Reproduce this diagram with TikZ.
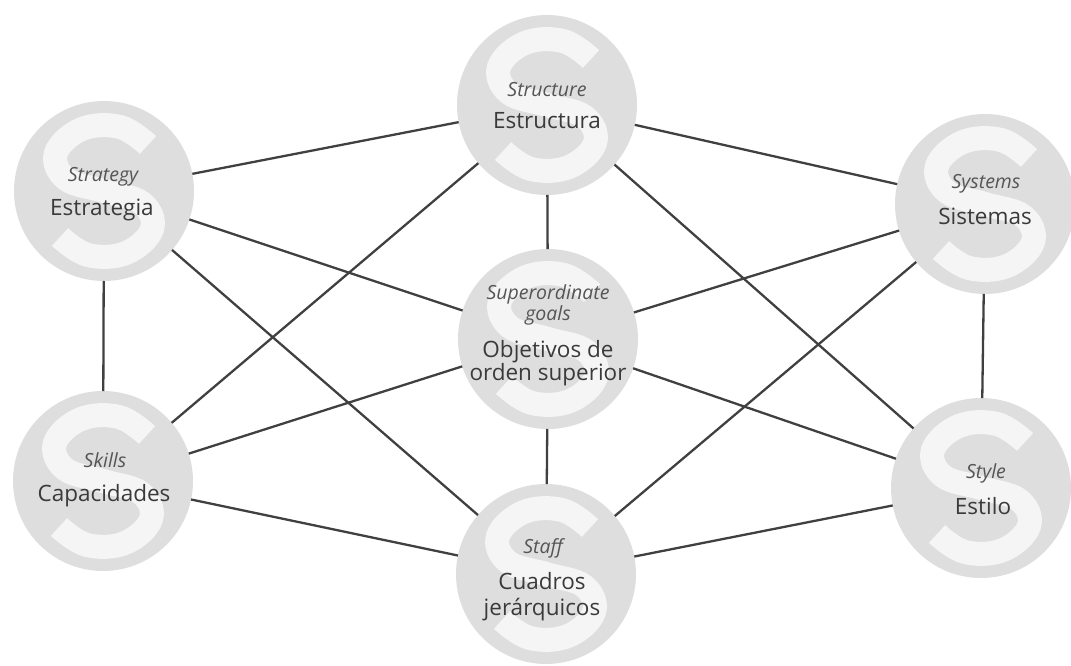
\documentclass[tikz,border=0pt]{standalone}
\usepackage{fontspec}
\setmainfont{Open Sans}
\definecolor{discgray}{HTML}{DEDEDE}
\definecolor{sgray}{HTML}{F5F5F5}
\definecolor{linkgray}{HTML}{404040}
\definecolor{engray}{HTML}{555555}
\definecolor{esgray}{HTML}{3A3A3A}
\begin{document}
\begin{tikzpicture}[x=1pt,y=-1pt,
  disc/.style={circle, minimum size=180pt, inner sep=0pt, outer sep=0pt, fill=discgray,
    path picture={
      \begin{scope}[shift={(path picture bounding box.center)}]
        % the large pale letter S inside each disc
        \draw[sgray, line width=24pt] plot[smooth, tension=0.65] coordinates
          {(44,-46) (16,-64) (-22,-62) (-48,-38) (-38,-12) (0,0) (38,12) (48,38) (22,62) (-16,64) (-44,46)};
      \end{scope}}},
  link/.style={draw=linkgray, line width=2.3pt},
  en/.style={font=\fontsize{19.5}{21}\selectfont\itshape, text=engray, anchor=base, inner sep=0pt},
  es/.style={font=\fontsize{22.5}{24}\selectfont, text=esgray, anchor=base, inner sep=0pt}]
\useasboundingbox (0,0) rectangle (1071,666);

% the seven elements
\node[disc] (strat)  at (104,191) {};
\node[disc] (struc)  at (547,105) {};
\node[disc] (sys)    at (985,204) {};
\node[disc] (sup)    at (548,339) {};
\node[disc] (skills) at (103,481) {};
\node[disc] (staff)  at (546,574) {};
\node[disc] (style)  at (981,488) {};

% connections
\draw[link] (strat) -- (struc);
\draw[link] (struc) -- (sys);
\draw[link] (strat) -- (sup);
\draw[link] (strat) -- (staff);
\draw[link] (strat) -- (skills);
\draw[link] (struc) -- (sup);
\draw[link] (struc) -- (skills);
\draw[link] (struc) -- (style);
\draw[link] (sys) -- (sup);
\draw[link] (sys) -- (staff);
\draw[link] (sys) -- (style);
\draw[link] (sup) -- (skills);
\draw[link] (sup) -- (style);
\draw[link] (sup) -- (staff);
\draw[link] (skills) -- (staff);
\draw[link] (staff) -- (style);

% labels
\node[en] (strat-en) at (103,181) {Strategy};
\node[es] (strat-es) at (102,215) {Estrategia};
\node[en] (struc-en) at (547,97) {Structure};
\node[es] (struc-es) at (547,129) {Estructura};
\node[en] (sys-en) at (986,188) {Systems};
\node[es] (sys-es) at (985,224) {Sistemas};
\node[en] (sup-en1) at (548,299) {Superordinate};
\node[en] (sup-en2) at (548,320) {goals};
\node[es] (sup-es1) at (548,357) {Objetivos de};
\node[es] (sup-es2) at (548,380) {orden superior};
\node[en] (skills-en) at (105,467) {Skills};
\node[es] (skills-es) at (104,501) {Capacidades};
\node[en] (staff-en) at (543,553) {Staff};
\node[es] (staff-es1) at (542,589) {Cuadros};
\node[es] (staff-es2) at (542,615) {jerárquicos};
\node[en] (style-en) at (986,478) {Style};
\node[es] (style-es) at (983,514) {Estilo};
\end{tikzpicture}
\end{document}
